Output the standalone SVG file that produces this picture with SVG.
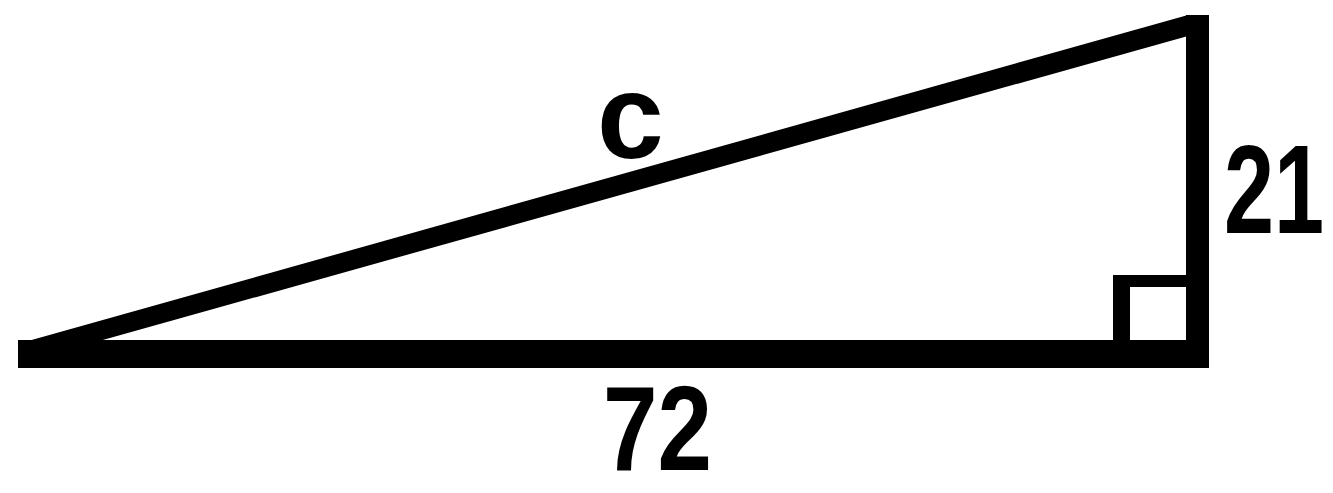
<svg xmlns="http://www.w3.org/2000/svg" width="1333" height="493" viewBox="0 0 1333 493">
<style>
.ink{fill:#000;stroke:none}
.lbl{font-family:"Liberation Sans",Arial,sans-serif;font-weight:bold;fill:#000}
</style>
<rect width="1333" height="493" fill="#fff"/>
<g id="triangle">
<polygon class="ink" points="28,341 1188,15 1188,36 60,352"/>
<rect class="ink" x="18" y="340" width="1191" height="28"/>
<rect class="ink" x="1186" y="15" width="23" height="353"/>
<rect class="ink" x="1113" y="275" width="17" height="80"/>
<rect class="ink" x="1113" y="275" width="80" height="12"/>
</g>
<g id="labels">
<text class="lbl" x="597" y="158" font-size="120">c</text>
<text class="lbl" font-size="90" transform="translate(1224,233) scale(1,1.4)">21</text>
<text class="lbl" font-size="98" transform="translate(603,470) scale(1,1.24)">72</text>
</g>
</svg>
